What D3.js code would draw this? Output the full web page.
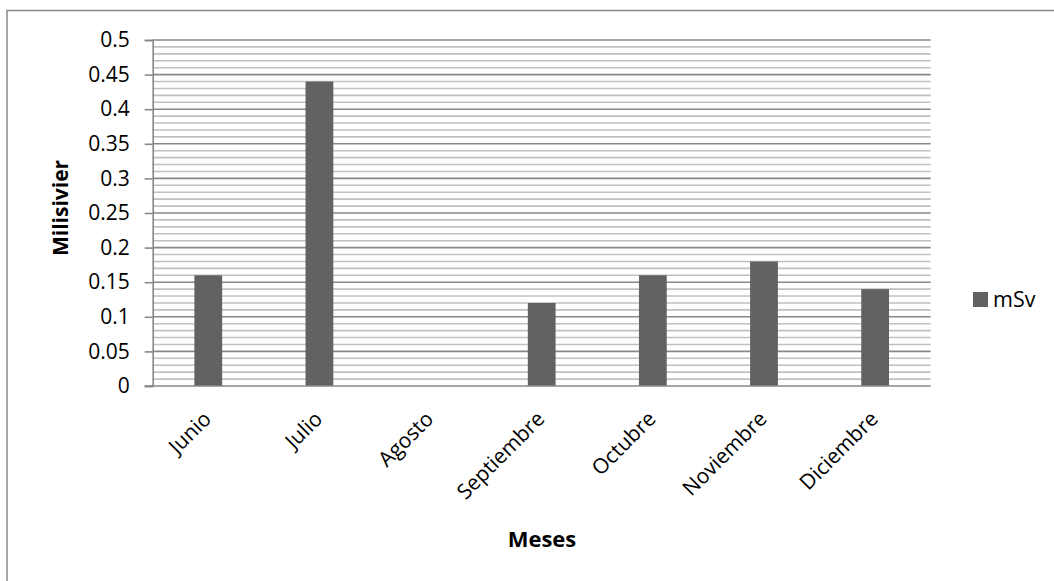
<!DOCTYPE html>
<html>
<head>
<meta charset="utf-8">
<script src="https://cdn.jsdelivr.net/npm/d3@7"></script>
<style>
  html, body { margin: 0; padding: 0; background: #fff; }
  svg { display: block; }
  text { font-family: "Open Sans", "Noto Sans", sans-serif; fill: #000; }
</style>
</head>
<body>
<svg id="chart" width="1054" height="581"></svg>
<script>
// Monthly dose readings (millisievert)
const months = ["Junio", "Julio", "Agosto", "Septiembre", "Octubre", "Noviembre", "Diciembre"];
const doses = [0.16, 0.44, 0, 0.12, 0.16, 0.18, 0.14];
const yTicks = [0, 0.05, 0.1, 0.15, 0.2, 0.25, 0.3, 0.35, 0.4, 0.45, 0.5];
const seriesName = "mSv";

const svg = d3.select("#chart");
const W = 1054, H = 581;
const plot = { left: 152.7, right: 930.7, top: 40, bottom: 386 };

// chart frame
svg.append("rect")
  .attr("x", 7).attr("y", 10.5)
  .attr("width", W + 20).attr("height", H + 20)
  .attr("fill", "#fff").attr("stroke", "#8a8a8a").attr("stroke-width", 1.5);

const x = d3.scaleBand().domain(months).range([plot.left, plot.right]).paddingInner(0).paddingOuter(0);
const y = d3.scaleLinear().domain([0, 0.5]).range([plot.bottom, plot.top]);

// minor gridlines every 0.01
const minor = d3.range(1, 50).map(i => i / 100).filter(v => Math.round(v * 100) % 5 !== 0);
svg.append("g").selectAll("line").data(minor).join("line")
  .attr("x1", plot.left).attr("x2", plot.right)
  .attr("y1", d => y(d)).attr("y2", d => y(d))
  .attr("stroke", "#c0c0c0").attr("stroke-width", 1.6);

// major gridlines
svg.append("g").selectAll("line").data(yTicks.filter(v => v > 0)).join("line")
  .attr("x1", plot.left).attr("x2", plot.right)
  .attr("y1", d => y(d)).attr("y2", d => y(d))
  .attr("stroke", "#888888").attr("stroke-width", 1.6);

// bars
const barW = x.bandwidth() / 4;
svg.append("g").selectAll("rect").data(doses).join("rect")
  .attr("x", (d, i) => x(months[i]) + x.bandwidth() / 2 - barW / 2)
  .attr("width", barW)
  .attr("y", d => y(d))
  .attr("height", d => y(0) - y(d))
  .attr("fill", "#626262");

// y axis
const yAxis = d3.axisLeft(y).tickValues(yTicks).tickSize(8).tickPadding(15)
  .tickFormat(d => String(+d.toFixed(2)));
const gy = svg.append("g").attr("transform", `translate(${plot.left},0)`).call(yAxis);
gy.select(".domain").attr("stroke", "#888888").attr("stroke-width", 1.6);
gy.selectAll(".tick line").attr("stroke", "#888888").attr("stroke-width", 1.6);
gy.selectAll(".tick text").style("font-size", "21px").attr("fill", "#000");

// x axis baseline
const xAxis = d3.axisBottom(x).tickSize(0).tickPadding(0);
const gx = svg.append("g").attr("transform", `translate(0,${plot.bottom})`).call(xAxis);
gx.select(".domain").remove();
gx.append("line").attr("x1", plot.left - 8).attr("x2", plot.right).attr("y1", 0).attr("y2", 0)
  .attr("stroke", "#888888").attr("stroke-width", 1.6);
gx.selectAll(".tick text")
  .style("font-size", "21px").attr("fill", "#000")
  .attr("text-anchor", "end")
  .attr("dy", "0.35em")
  .attr("transform", "translate(-1,29) rotate(-45)");

// axis titles
svg.append("text")
  .attr("transform", "translate(68,208) rotate(-90)")
  .attr("text-anchor", "middle")
  .style("font-size", "21px").style("font-weight", "bold")
  .text("Milisivier");

svg.append("text")
  .attr("x", 542).attr("y", 547)
  .attr("text-anchor", "middle")
  .style("font-size", "22px").style("font-weight", "bold")
  .text("Meses");

// legend
const lg = svg.append("g").attr("transform", "translate(973,292)");
lg.append("rect").attr("width", 15).attr("height", 15).attr("fill", "#626262");
lg.append("text").attr("x", 20).attr("y", 15).style("font-size", "21.5px").text(seriesName);
</script>
</body>
</html>
